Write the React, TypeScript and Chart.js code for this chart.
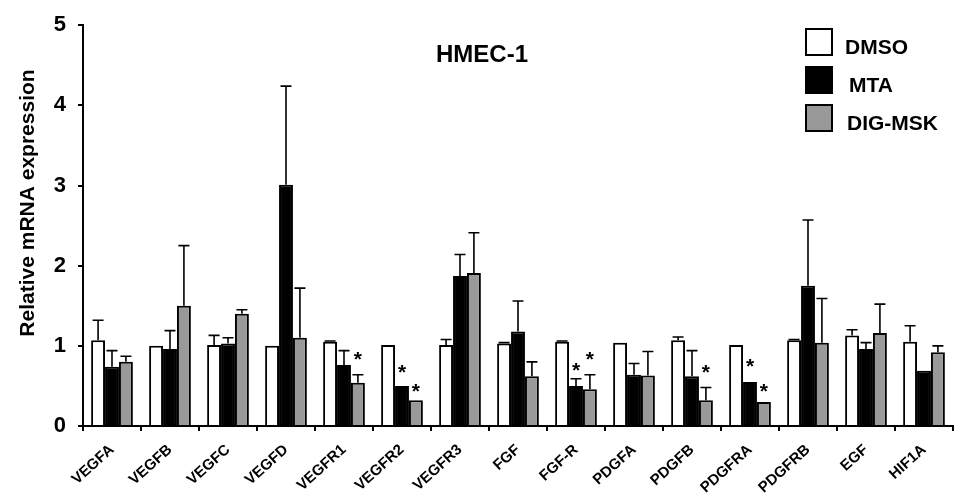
import React, { useEffect, useRef } from 'react';
import { Chart, registerables } from 'chart.js';

Chart.register(...registerables);

const categories = ['VEGFA', 'VEGFB', 'VEGFC', 'VEGFD', 'VEGFR1', 'VEGFR2', 'VEGFR3', 'FGF', 'FGF-R', 'PDGFA', 'PDGFB', 'PDGFRA', 'PDGFRB', 'EGF', 'HIF1A'];
const seriesNames = ['DMSO', 'MTA', 'DIG-MSK'];

const dmso = [1.07, 1.0, 1.01, 1.0, 1.05, 1.01, 1.01, 1.03, 1.05, 1.04, 1.07, 1.01, 1.07, 1.13, 1.05];
const mta = [0.74, 0.96, 1.03, 3.01, 0.76, 0.5, 1.87, 1.18, 0.5, 0.64, 0.62, 0.55, 1.75, 0.96, 0.69];
const dig = [0.8, 1.5, 1.4, 1.1, 0.54, 0.32, 1.91, 0.62, 0.46, 0.63, 0.32, 0.3, 1.04, 1.16, 0.92];

const dmsoErr = [0.25, null, 0.12, null, 0.01, null, 0.07, 0.01, 0.01, null, 0.04, null, 0.01, 0.07, 0.2];
const mtaErr = [0.2, 0.23, 0.07, 1.23, 0.18, null, 0.27, 0.38, 0.09, 0.14, 0.32, null, 0.82, 0.08, null];
const digErr = [0.07, 0.75, 0.05, 0.62, 0.1, null, 0.5, 0.18, 0.18, 0.3, 0.16, null, 0.55, 0.36, 0.08];

// level (in y units) of the significance asterisks, by series
const starMTA = [null, null, null, null, null, 0.74, null, null, 0.76, null, null, 0.81, null, null, null];
const starDIG = [null, null, null, null, 0.9, 0.5, null, null, 0.9, null, 0.73, 0.5, null, null, null];

const yTicks = [0, 1, 2, 3, 4, 5];

const chartTitle = 'HMEC-1';
const yTitle = 'Relative mRNA expression';

const colors = ['#ffffff', '#000000', '#999999'];
const FONT = '"Liberation Sans", Arial, sans-serif';

export default function App() {
  const ref = useRef<HTMLCanvasElement | null>(null);

  useEffect(() => {
    document.body.style.margin = '0';
    const canvas = ref.current;
    if (!canvas) return;
    const errs = [dmsoErr, mtaErr, digErr];
    const stars = [null, starMTA, starDIG];

    const overlay = {
      id: 'overlay',
      afterDatasetsDraw(chart: any) {
        const ctx = chart.ctx;
        const ys = chart.scales.y;
        errs.forEach((arr, di) => {
          const meta = chart.getDatasetMeta(di);
          meta.data.forEach((el: any, i: number) => {
            const e = arr[i];
            if (e == null) return;
            const v = chart.data.datasets[di].data[i] as number;
            const top = ys.getPixelForValue(v + e);
            ctx.save();
            ctx.strokeStyle = '#000';
            ctx.lineWidth = 1.6;
            ctx.beginPath();
            ctx.moveTo(el.x, el.y);
            ctx.lineTo(el.x, top);
            ctx.moveTo(el.x - 5.5, top);
            ctx.lineTo(el.x + 5.5, top);
            ctx.stroke();
            ctx.restore();
          });
        });
        stars.forEach((arr, di) => {
          if (!arr) return;
          const meta = chart.getDatasetMeta(di);
          meta.data.forEach((el: any, i: number) => {
            const s = arr[i];
            if (s == null) return;
            const py = ys.getPixelForValue(s);
            ctx.save();
            ctx.fillStyle = '#000';
            ctx.font = `bold 21px ${FONT}`;
            ctx.textAlign = 'center';
            ctx.textBaseline = 'alphabetic';
            ctx.fillText('*', el.x, py + 12);
            ctx.restore();
          });
        });
      },
      afterDraw(chart: any) {
        const ctx = chart.ctx;
        ctx.save();
        // title
        ctx.fillStyle = '#000';
        ctx.font = `bold 24px ${FONT}`;
        ctx.textAlign = 'center';
        ctx.textBaseline = 'middle';
        ctx.fillText(chartTitle, 482, 55);
        // y axis title
        ctx.save();
        ctx.translate(28, 203);
        ctx.rotate(-Math.PI / 2);
        ctx.font = `bold 21px ${FONT}`;
        ctx.fillText(yTitle, 0, 0);
        ctx.restore();
        // legend
        const textX = [845, 849, 847];
        chart.data.datasets.forEach((ds: any, i: number) => {
          const bx = 806;
          const by = 29 + i * 38;
          ctx.fillStyle = ds.backgroundColor;
          ctx.fillRect(bx, by, 26, 26);
          ctx.strokeStyle = '#000';
          ctx.lineWidth = 2;
          ctx.strokeRect(bx, by, 26, 26);
          ctx.fillStyle = '#000';
          ctx.font = `bold 21px ${FONT}`;
          ctx.textAlign = 'left';
          ctx.textBaseline = 'middle';
          ctx.fillText(ds.label, textX[i], by + 19);
        });
        ctx.restore();
      },
    };

    const chart = new Chart(canvas, {
      type: 'bar',
      data: {
        labels: categories,
        datasets: [dmso, mta, dig].map((d, i) => ({
          label: seriesNames[i],
          data: d,
          backgroundColor: colors[i],
          borderColor: '#000',
          borderWidth: 2,
          categoryPercentage: 0.72,
          barPercentage: 1.0,
        })),
      },
      options: {
        animation: false,
        responsive: false,
        maintainAspectRatio: false,
        layout: { padding: { top: 20, right: 11, left: 0, bottom: 0 } },
        plugins: {
          legend: { display: false },
          tooltip: { enabled: false },
        },
        scales: {
          x: {
            afterFit: (s: any) => { s.height = 78; },
            grid: { drawOnChartArea: false, offset: true, tickLength: 5, color: '#000', lineWidth: 2 },
            border: { color: '#000', width: 2 },
            ticks: {
              color: '#000',
              font: { family: FONT, size: 15, weight: 'bold' },
              minRotation: 42,
              maxRotation: 42,
              autoSkip: false,
              padding: 10,
            },
          },
          y: {
            min: 0,
            max: 5,
            afterFit: (s: any) => { s.width = 83; },
            afterBuildTicks: (s: any) => { s.ticks = yTicks.map((v) => ({ value: v })); },
            grid: { drawOnChartArea: false, tickLength: 5, color: '#000', lineWidth: 2 },
            border: { color: '#000', width: 2 },
            ticks: {
              color: '#000',
              font: { family: FONT, size: 22, weight: 'bold' },
              padding: 12,
            },
          },
        },
      },
      plugins: [overlay],
    });
    return () => chart.destroy();
  }, []);

  return <canvas ref={ref} width={964} height={504} style={{ display: 'block' }} />;
}
